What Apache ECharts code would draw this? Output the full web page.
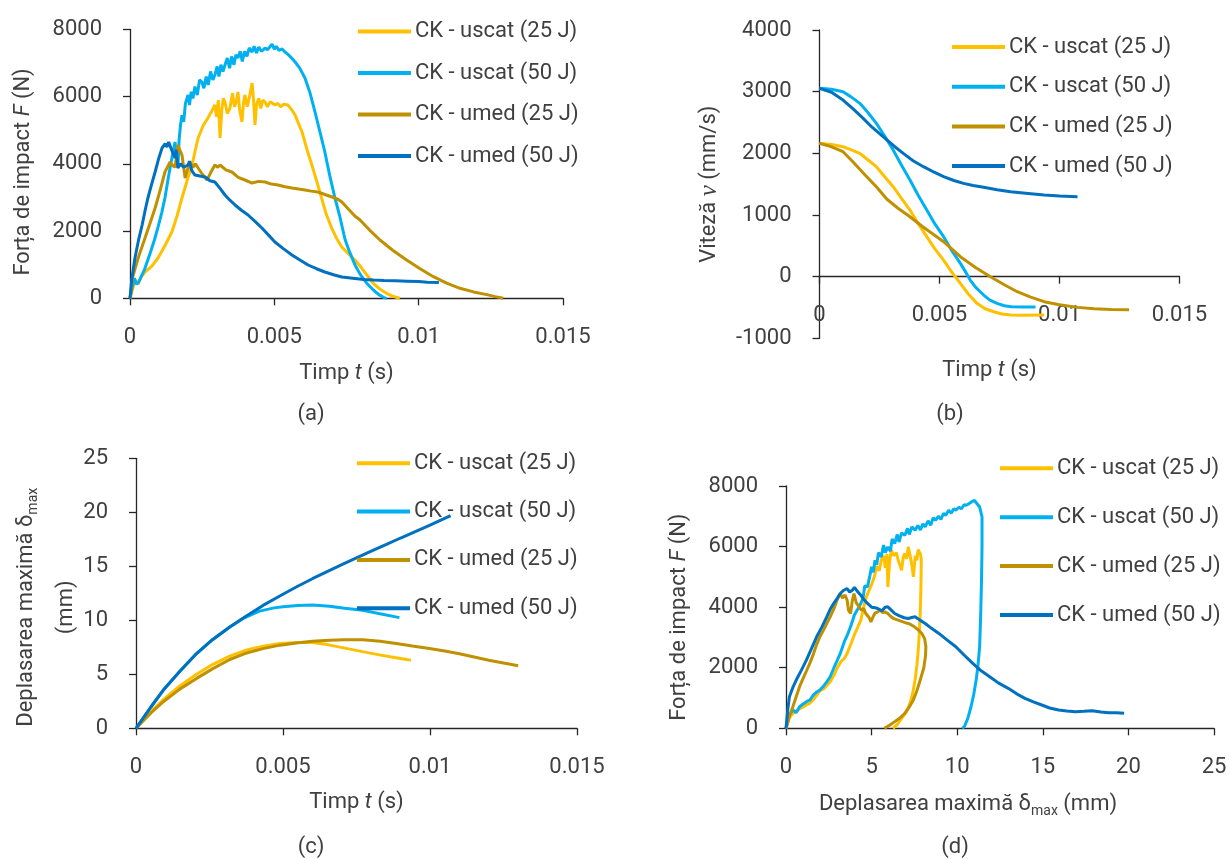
<!DOCTYPE html>
<html>
<head>
<meta charset="utf-8">
<script src="https://cdn.jsdelivr.net/npm/echarts@6/dist/echarts.min.js"></script>
<style>
  html, body { margin: 0; padding: 0; background: #fff; }
  #chart { width: 1230px; height: 859px; }
</style>
</head>
<body>
<div id="chart"></div>
<script>
// ---- series names and tick values ----
const SERIES_NAMES = ['CK - uscat (25 J)', 'CK - uscat (50 J)', 'CK - umed (25 J)', 'CK - umed (50 J)'];
const TIME_TICKS = [0, 0.005, 0.01, 0.015];
const FORCE_TICKS = [0, 2000, 4000, 6000, 8000];
const SPEED_TICKS = [-1000, 0, 1000, 2000, 3000, 4000];
const DISPL_TICKS = [0, 5, 10, 15, 20, 25];
const CAPTIONS = ['(a)', '(b)', '(c)', '(d)'];

// ---- (a) impact force F [N] vs time t [s] ----
const a_uscat25 = [[0,0],[0.0001,300],[0.00018,560],[0.00028,420],[0.00038,620],[0.00052,783],[0.00075,950],[0.00097,1199],[0.0012,1550],[0.00145,1973],[0.00163,2450],[0.0018,2985],[0.00197,3480],[0.00215,3967],[0.00226,4400],[0.00236,4771],[0.00254,5150],[0.0027,5366],[0.00282,5550],[0.00294,5753],[0.003,5400],[0.00306,5900],[0.00312,4771],[0.00318,5600],[0.00323,5950],[0.00329,5842],[0.00337,5500],[0.00346,5650],[0.00355,6100],[0.00362,5700],[0.00368,5850],[0.00374,6137],[0.0038,5600],[0.00388,5247],[0.00393,5800],[0.00398,6050],[0.00406,5700],[0.00414,6000],[0.00423,6407],[0.00428,5900],[0.00433,5158],[0.00438,5750],[0.00446,5950],[0.00453,5650],[0.0046,5900],[0.00468,5842],[0.00476,5700],[0.00486,5850],[0.00502,5753],[0.00512,5800],[0.00522,5700],[0.00533,5780],[0.00547,5753],[0.00561,5600],[0.00572,5455],[0.00584,5200],[0.00596,4950],[0.00614,4400],[0.0063,3967],[0.00648,3450],[0.00664,2976],[0.0068,2500],[0.00699,2083],[0.00716,1780],[0.00733,1536],[0.00756,1330],[0.00779,1140],[0.00797,960],[0.0082,700],[0.00843,446],[0.00866,270],[0.00889,149],[0.0091,60],[0.00935,0]];
const a_uscat50 = [[0,0],[0.00007,300],[0.00015,600],[0.00022,420],[0.0003,480],[0.0005,850],[0.0007,1350],[0.00085,1750],[0.00098,2150],[0.0011,2550],[0.00121,2985],[0.00133,3600],[0.00145,4175],[0.00156,4652],[0.0016,4300],[0.00166,3900],[0.0017,4700],[0.00175,5158],[0.0018,5450],[0.00186,5250],[0.00192,5800],[0.00201,6050],[0.00206,5750],[0.00212,6150],[0.00218,5950],[0.00225,6300],[0.00233,6050],[0.00241,6500],[0.00249,6437],[0.00256,6250],[0.00264,6600],[0.00271,6350],[0.00279,6750],[0.00287,6500],[0.00294,6645],[0.00302,6900],[0.00308,6600],[0.00315,6950],[0.00322,6750],[0.00329,6943],[0.00337,7150],[0.00345,6850],[0.00352,7200],[0.0036,6950],[0.00367,7250],[0.00374,7151],[0.00382,7350],[0.00389,7050],[0.00397,7350],[0.00405,7200],[0.00413,7450],[0.00423,7330],[0.0043,7500],[0.00438,7300],[0.00446,7480],[0.00455,7350],[0.00468,7449],[0.00476,7400],[0.00492,7560],[0.005,7420],[0.00507,7500],[0.00516,7380],[0.00527,7420],[0.00537,7330],[0.00548,7250],[0.0056,7150],[0.00572,7032],[0.00588,6850],[0.00606,6556],[0.00624,6100],[0.00641,5544],[0.00658,4950],[0.00675,4354],[0.00692,3650],[0.0071,2985],[0.00727,2428],[0.00745,1750],[0.00762,1350],[0.00779,1000],[0.00797,720],[0.0082,450],[0.00843,247],[0.00863,100],[0.00883,9],[0.0089,0]];
const a_umed25 = [[0,0],[0.0001,650],[0.00028,1193],[0.00052,1795],[0.0007,2250],[0.00087,2687],[0.00104,3200],[0.00121,3759],[0.00139,4056],[0.00148,3950],[0.00156,3900],[0.00166,4562],[0.00173,4400],[0.0018,4265],[0.00191,3580],[0.002,3850],[0.00208,4056],[0.00218,3900],[0.00227,4000],[0.00236,3878],[0.0025,3700],[0.00267,3521],[0.0028,3750],[0.00294,3967],[0.00304,3900],[0.00312,3967],[0.00332,3820],[0.00353,3759],[0.00375,3600],[0.00398,3521],[0.00423,3431],[0.00445,3480],[0.00468,3461],[0.0049,3400],[0.00513,3372],[0.00537,3320],[0.00561,3283],[0.00584,3250],[0.00606,3223],[0.00628,3190],[0.00651,3164],[0.00675,3090],[0.007,3015],[0.0072,2950],[0.00734,2866],[0.00757,2650],[0.00779,2450],[0.00797,2330],[0.0083,2030],[0.00866,1735],[0.0091,1430],[0.00958,1140],[0.01005,880],[0.01051,643],[0.01097,450],[0.01143,298],[0.0119,190],[0.01236,110],[0.01265,50],[0.01293,0]];
const a_umed50 = [[0,0],[0.00006,550],[0.00017,1193],[0.0003,1750],[0.00042,2181],[0.00052,2600],[0.00062,2985],[0.00075,3400],[0.00087,3759],[0.00099,4150],[0.00111,4473],[0.00122,4600],[0.00128,4500],[0.00134,4650],[0.00145,4400],[0.00156,4175],[0.0016,4420],[0.00166,3878],[0.00175,4000],[0.00186,3900],[0.00201,3967],[0.00206,4080],[0.00214,3800],[0.00225,3669],[0.00242,3640],[0.0026,3610],[0.00277,3500],[0.00294,3461],[0.00312,3270],[0.00329,3074],[0.00346,2920],[0.00364,2777],[0.00386,2620],[0.00409,2479],[0.00433,2290],[0.00457,2092],[0.0048,1880],[0.00502,1675],[0.00532,1470],[0.00561,1289],[0.0059,1130],[0.00617,991],[0.00646,880],[0.00675,783],[0.00705,700],[0.00734,634],[0.00779,590],[0.0081,560],[0.00843,545],[0.0088,530],[0.0092,520],[0.0096,510],[0.01,500],[0.0103,480],[0.0107,470]];

// ---- (b) velocity v [mm/s] vs time t [s] ----
const b_uscat25 = [[0,2162],[0.0005,2145],[0.00098,2108],[0.0013,2060],[0.00168,2000],[0.002,1900],[0.00237,1784],[0.0027,1630],[0.00307,1459],[0.0034,1280],[0.00377,1081],[0.0041,870],[0.00447,649],[0.0048,455],[0.00517,270],[0.0055,80],[0.00587,-108],[0.0062,-280],[0.00656,-432],[0.0069,-520],[0.00726,-568],[0.0076,-605],[0.00796,-622],[0.0085,-625],[0.00936,-622]];
const b_uscat50 = [[0,3054],[0.0005,3040],[0.00098,3000],[0.0013,2920],[0.00168,2811],[0.002,2670],[0.00237,2486],[0.0027,2290],[0.00307,2054],[0.0034,1820],[0.00377,1568],[0.0041,1330],[0.00447,1081],[0.0048,860],[0.00517,649],[0.0055,430],[0.00587,216],[0.0061,70],[0.00628,-54],[0.0065,-170],[0.00684,-297],[0.0071,-380],[0.0074,-432],[0.0077,-470],[0.008,-486],[0.0085,-490],[0.009,-490]];
const b_umed25 = [[0,2162],[0.0004,2120],[0.00098,2027],[0.0014,1860],[0.0019,1650],[0.00237,1459],[0.0028,1260],[0.00327,1110],[0.00377,973],[0.0043,810],[0.00477,680],[0.00517,568],[0.00587,324],[0.0065,150],[0.00712,0],[0.0077,-130],[0.00824,-243],[0.0088,-330],[0.00936,-405],[0.01,-455],[0.01075,-497],[0.01145,-518],[0.01215,-530],[0.0129,-535]];
const b_umed50 = [[0,3054],[0.0005,2990],[0.00098,2865],[0.0014,2720],[0.00182,2568],[0.0022,2420],[0.00265,2270],[0.0031,2120],[0.00349,2000],[0.0039,1880],[0.00433,1784],[0.0048,1690],[0.00517,1622],[0.0056,1560],[0.006,1514],[0.0064,1478],[0.00684,1449],[0.0074,1410],[0.00796,1378],[0.0087,1350],[0.00936,1324],[0.01,1310],[0.01075,1297]];

// ---- (c) maximum displacement [mm] vs time t [s] ----
const c_uscat25 = [[0,0],[0.0005,1.5],[0.00093,2.65],[0.0015,3.95],[0.00206,5.0],[0.0026,5.9],[0.00319,6.68],[0.0037,7.2],[0.00432,7.6],[0.0049,7.85],[0.00545,7.95],[0.006,7.95],[0.0065,7.75],[0.00715,7.4],[0.0077,7.1],[0.00828,6.8],[0.0088,6.55],[0.00935,6.3]];
const c_uscat50 = [[0,0],[0.0005,1.95],[0.00093,3.54],[0.0015,5.3],[0.00206,6.92],[0.0026,8.2],[0.00319,9.38],[0.0037,10.25],[0.0042,10.85],[0.0047,11.15],[0.005,11.25],[0.0055,11.38],[0.006,11.42],[0.00658,11.3],[0.0071,11.12],[0.00771,10.92],[0.0083,10.6],[0.00896,10.25]];
const c_umed25 = [[0,0],[0.0005,1.4],[0.00093,2.46],[0.0015,3.65],[0.00206,4.62],[0.0026,5.5],[0.00319,6.37],[0.0037,6.92],[0.00432,7.38],[0.0049,7.7],[0.00545,7.9],[0.006,8.05],[0.00658,8.15],[0.0071,8.2],[0.00771,8.2],[0.0083,8.05],[0.00885,7.85],[0.0094,7.62],[0.00998,7.38],[0.0105,7.15],[0.011,6.9],[0.0115,6.6],[0.012,6.3],[0.0125,6.05],[0.013,5.8]];
const c_umed50 = [[0,0],[0.0005,1.95],[0.00093,3.54],[0.0015,5.3],[0.00206,6.92],[0.0026,8.2],[0.00319,9.38],[0.0037,10.3],[0.00432,11.38],[0.00489,12.25],[0.00545,13.08],[0.006,13.85],[0.0065,14.5],[0.007,15.15],[0.0075,15.78],[0.008,16.4],[0.0085,17.0],[0.009,17.62],[0.0095,18.22],[0.01,18.82],[0.0107,19.7]];

// ---- (d) impact force F [N] vs maximum displacement [mm] ----
const d_uscat25 = [[0,0],[0.2,350],[0.4,494],[0.6,550],[0.8,650],[1.0,700],[1.2,780],[1.39,824],[1.6,950],[1.8,1100],[2.0,1250],[2.2,1300],[2.4,1420],[2.58,1538],[2.8,1750],[3.0,2000],[3.2,2200],[3.4,2300],[3.57,2473],[3.8,2800],[4.0,3100],[4.2,3350],[4.37,3571],[4.5,3900],[4.6,4150],[4.7,4350],[4.86,4560],[5.0,4750],[5.16,5000],[5.3,5350],[5.45,5200],[5.56,5549],[5.7,5700],[5.8,5300],[5.9,5750],[5.95,4670],[6.05,5500],[6.15,5879],[6.3,5700],[6.45,5800],[6.55,5549],[6.65,5400],[6.75,5220],[6.85,5650],[6.94,5769],[7.05,5600],[7.14,5989],[7.25,5700],[7.35,5400],[7.44,5000],[7.55,5700],[7.64,5549],[7.72,5900],[7.84,5769],[7.9,5600],[7.9,5440],[7.88,4600],[7.84,3791],[7.79,3200],[7.74,2692],[7.65,2100],[7.54,1593],[7.4,1150],[7.24,824],[7.0,520],[6.75,330],[6.5,130],[6.25,0]];
const d_uscat50 = [[0,0],[0.2,450],[0.4,604],[0.6,520],[0.79,714],[1.0,800],[1.2,880],[1.39,934],[1.6,1100],[1.8,1200],[1.98,1264],[2.2,1400],[2.4,1550],[2.58,1703],[2.8,2000],[3.0,2250],[3.17,2473],[3.4,2850],[3.6,3100],[3.77,3352],[4.0,3750],[4.2,3950],[4.37,4121],[4.5,4300],[4.6,4700],[4.76,4670],[4.9,5050],[5.0,5330],[5.1,5150],[5.2,5550],[5.3,5400],[5.4,5800],[5.56,5659],[5.7,6050],[5.8,5800],[5.95,5989],[6.1,5850],[6.2,6250],[6.35,6099],[6.5,6400],[6.6,6150],[6.75,6450],[6.94,6374],[7.1,6600],[7.2,6400],[7.35,6650],[7.54,6538],[7.7,6700],[7.85,6550],[8.0,6750],[8.13,6648],[8.3,6850],[8.45,6700],[8.6,6950],[8.73,6868],[8.9,7000],[9.05,6900],[9.2,7100],[9.33,7033],[9.5,7200],[9.65,7100],[9.8,7250],[9.92,7198],[10.1,7300],[10.25,7250],[10.4,7380],[10.52,7363],[10.7,7420],[10.85,7480],[11.01,7527],[11.15,7420],[11.31,7308],[11.45,6978],[11.45,6000],[11.42,4890],[11.37,3700],[11.31,2700],[11.22,2100],[11.11,1600],[10.96,1100],[10.81,720],[10.62,330],[10.42,60],[10.3,0]];
const d_umed25 = [[0,0],[0.2,400],[0.4,714],[0.6,1050],[0.79,1373],[1.0,1650],[1.2,1900],[1.39,2143],[1.6,2450],[1.8,2780],[1.98,3022],[2.2,3250],[2.4,3480],[2.58,3681],[2.8,3950],[2.98,4231],[3.08,4350],[3.17,4450],[3.3,4300],[3.45,4400],[3.57,4231],[3.65,3900],[3.77,3791],[3.87,4200],[3.97,4450],[4.1,4150],[4.27,4011],[4.4,3900],[4.55,3950],[4.65,3800],[4.76,3846],[4.86,3650],[4.96,3516],[5.1,3700],[5.2,3800],[5.36,3846],[5.5,3900],[5.65,3820],[5.8,3840],[5.95,3791],[6.1,3700],[6.3,3620],[6.55,3571],[6.8,3520],[7.0,3480],[7.14,3461],[7.3,3420],[7.5,3350],[7.74,3242],[7.95,3120],[8.1,2950],[8.17,2700],[8.15,2400],[8.05,2000],[7.84,1593],[7.65,1250],[7.44,934],[7.2,700],[6.94,494],[6.65,340],[6.35,220],[6.05,100],[5.75,0]];
const d_umed50 = [[0,0],[0.1,600],[0.2,1044],[0.4,1350],[0.6,1593],[0.9,1920],[1.19,2253],[1.5,2650],[1.79,3022],[2.1,3350],[2.38,3681],[2.6,3950],[2.78,4121],[3.0,4300],[3.17,4450],[3.35,4550],[3.57,4615],[3.72,4500],[3.87,4560],[4.0,4650],[4.07,4670],[4.2,4500],[4.37,4396],[4.55,4250],[4.76,4121],[5.0,4000],[5.2,3980],[5.36,3956],[5.6,3880],[5.8,4000],[5.95,4011],[6.15,3900],[6.35,3791],[6.6,3720],[6.9,3650],[7.14,3626],[7.35,3660],[7.54,3681],[7.8,3580],[8.13,3461],[8.5,3300],[8.93,3132],[9.4,2920],[9.92,2692],[10.4,2420],[10.91,2143],[11.4,1900],[11.9,1703],[12.4,1500],[12.98,1320],[13.5,1130],[13.96,990],[14.45,870],[14.94,769],[15.4,670],[15.92,604],[16.4,570],[16.9,548],[17.4,560],[17.88,581],[18.4,540],[18.86,515],[19.3,510],[19.75,495]];

// ---- styling ----
const FONT = 'Roboto';
const TEXT = '#404040';
const AXIS = '#262626';
const COLORS = ['#FFC000', '#00B0F0', '#BF9000', '#0070C0'];
const FS = 22;

const RICH = {
  n: { fontFamily: FONT, fontSize: FS, color: TEXT },
  i: { fontFamily: FONT, fontSize: FS, color: TEXT, fontStyle: 'italic' },
  v: { fontFamily: 'Liberation Serif', fontSize: 25, color: TEXT, fontStyle: 'italic' },
  s: { fontFamily: FONT, fontSize: 14, color: TEXT, padding: [14, 0, 0, 0] }
};
const RICH_C = {
  n: { fontFamily: FONT, fontSize: FS, color: TEXT, lineHeight: 40 },
  s: { fontFamily: FONT, fontSize: 14, color: TEXT, padding: [14, 0, 0, 0] }
};

const TIME_NAME = '{n|Timp }{i|t}{n| (s)}';
const FORCE_NAME = '{n|Forța de impact }{i|F}{n| (N)}';

const PANELS = [
  {
    grid: { left: 130, top: 29.5, width: 433, height: 268.8 },
    xTicks: TIME_TICKS, yTicks: FORCE_TICKS, xOffset: 0,
    xName: TIME_NAME, xGap: 64, xPad: [0, 0, 0, 0],
    yName: FORCE_NAME, yGap: 96, yPad: [0, 16, 0, 0], yRich: RICH,
    data: [a_uscat25, a_uscat50, a_umed25, a_umed50],
    legend: { left: 358, top: 20.5, itemGap: 19.5 },
    caption: [311, 414]
  },
  {
    // time axis drawn along v = 0: 308.4 * 1000 / 5000 above the grid bottom
    grid: { left: 819.5, top: 30, width: 360, height: 308.4 },
    xTicks: TIME_TICKS, yTicks: SPEED_TICKS, xOffset: -61.68,
    xName: TIME_NAME, xGap: 83, xPad: [0, 20, 0, 0],
    yName: '{n|Viteză }{v|v}{n| (mm/s)}', yGap: 98, yPad: [0, 0, 0, 0], yRich: RICH,
    data: [b_uscat25, b_uscat50, b_umed25, b_umed50],
    legend: { left: 952, top: 36, itemGap: 17.7 },
    caption: [950, 414]
  },
  {
    grid: { left: 136, top: 458.3, width: 441, height: 270 },
    xTicks: TIME_TICKS, yTicks: DISPL_TICKS, xOffset: 0,
    xName: TIME_NAME, xGap: 63, xPad: [0, 0, 0, 0],
    yName: '{n|Deplasarea maximă δ}{s|max}\n{n|(mm)}', yGap: 50, yPad: [0, 28, 0, 0], yRich: RICH_C,
    data: [c_uscat25, c_uscat50, c_umed25, c_umed50],
    legend: { left: 357, top: 452.3, itemGap: 26.3 },
    caption: [311, 847]
  },
  {
    grid: { left: 786, top: 486, width: 428, height: 242.3 },
    xTicks: DISPL_TICKS, yTicks: FORCE_TICKS, xOffset: 0,
    xName: '{n|Deplasarea maximă δ}{s|max}{n| (mm)}', xGap: 62, xPad: [0, 64, 0, 0],
    yName: FORCE_NAME, yGap: 96, yPad: [0, 20, 0, 0], yRich: RICH,
    data: [d_uscat25, d_uscat50, d_umed25, d_umed50],
    legend: { left: 1000, top: 457.3, itemGap: 26.9 },
    caption: [955, 847]
  }
];

function valueAxis(i, ticks, isX, p) {
  return {
    type: 'value',
    gridIndex: i,
    min: ticks[0],
    max: ticks[ticks.length - 1],
    interval: ticks[1] - ticks[0],
    offset: isX ? p.xOffset : 0,
    axisLine: { show: true, onZero: false, lineStyle: { color: AXIS, width: 1.3 } },
    axisTick: { show: true, length: 7, lineStyle: { color: AXIS, width: 1.3 } },
    axisLabel: {
      margin: 28, fontFamily: FONT, fontSize: FS, color: TEXT,
      formatter: v => String(v)
    },
    splitLine: { show: false },
    name: isX ? p.xName : p.yName,
    nameLocation: 'middle',
    nameGap: isX ? p.xGap : p.yGap,
    nameTextStyle: {
      fontFamily: FONT, fontSize: FS, color: TEXT,
      padding: isX ? p.xPad : p.yPad,
      rich: isX ? RICH : p.yRich
    }
  };
}

const option = {
  animation: false,
  backgroundColor: '#ffffff',
  grid: PANELS.map(p => Object.assign({ containLabel: false }, p.grid)),
  xAxis: PANELS.map((p, i) => valueAxis(i, p.xTicks, true, p)),
  yAxis: PANELS.map((p, i) => valueAxis(i, p.yTicks, false, p)),
  legend: PANELS.map(p => ({
    orient: 'vertical',
    left: p.legend.left,
    top: p.legend.top,
    itemGap: p.legend.itemGap,
    padding: 0,
    icon: 'rect',
    itemWidth: 53,
    itemHeight: 4,
    selectedMode: false,
    data: SERIES_NAMES,
    textStyle: { fontFamily: FONT, fontSize: FS, color: TEXT, lineHeight: 22, padding: [0, 0, 0, -1] }
  })),
  series: PANELS.flatMap((p, i) => p.data.map((d, k) => ({
    name: SERIES_NAMES[k],
    type: 'line',
    xAxisIndex: i,
    yAxisIndex: i,
    data: d,
    showSymbol: false,
    symbol: 'none',
    silent: true,
    color: COLORS[k],
    lineStyle: { color: COLORS[k], width: 3 },
    emphasis: { disabled: true }
  }))),
  graphic: PANELS.map((p, i) => ({
    type: 'text',
    x: p.caption[0],
    y: p.caption[1],
    style: {
      text: CAPTIONS[i],
      fontFamily: FONT, fontSize: FS, fill: TEXT,
      align: 'center', verticalAlign: 'middle'
    }
  }))
};

const chart = echarts.init(document.getElementById('chart'), null, { renderer: 'canvas' });
chart.setOption(option);
</script>
</body>
</html>
